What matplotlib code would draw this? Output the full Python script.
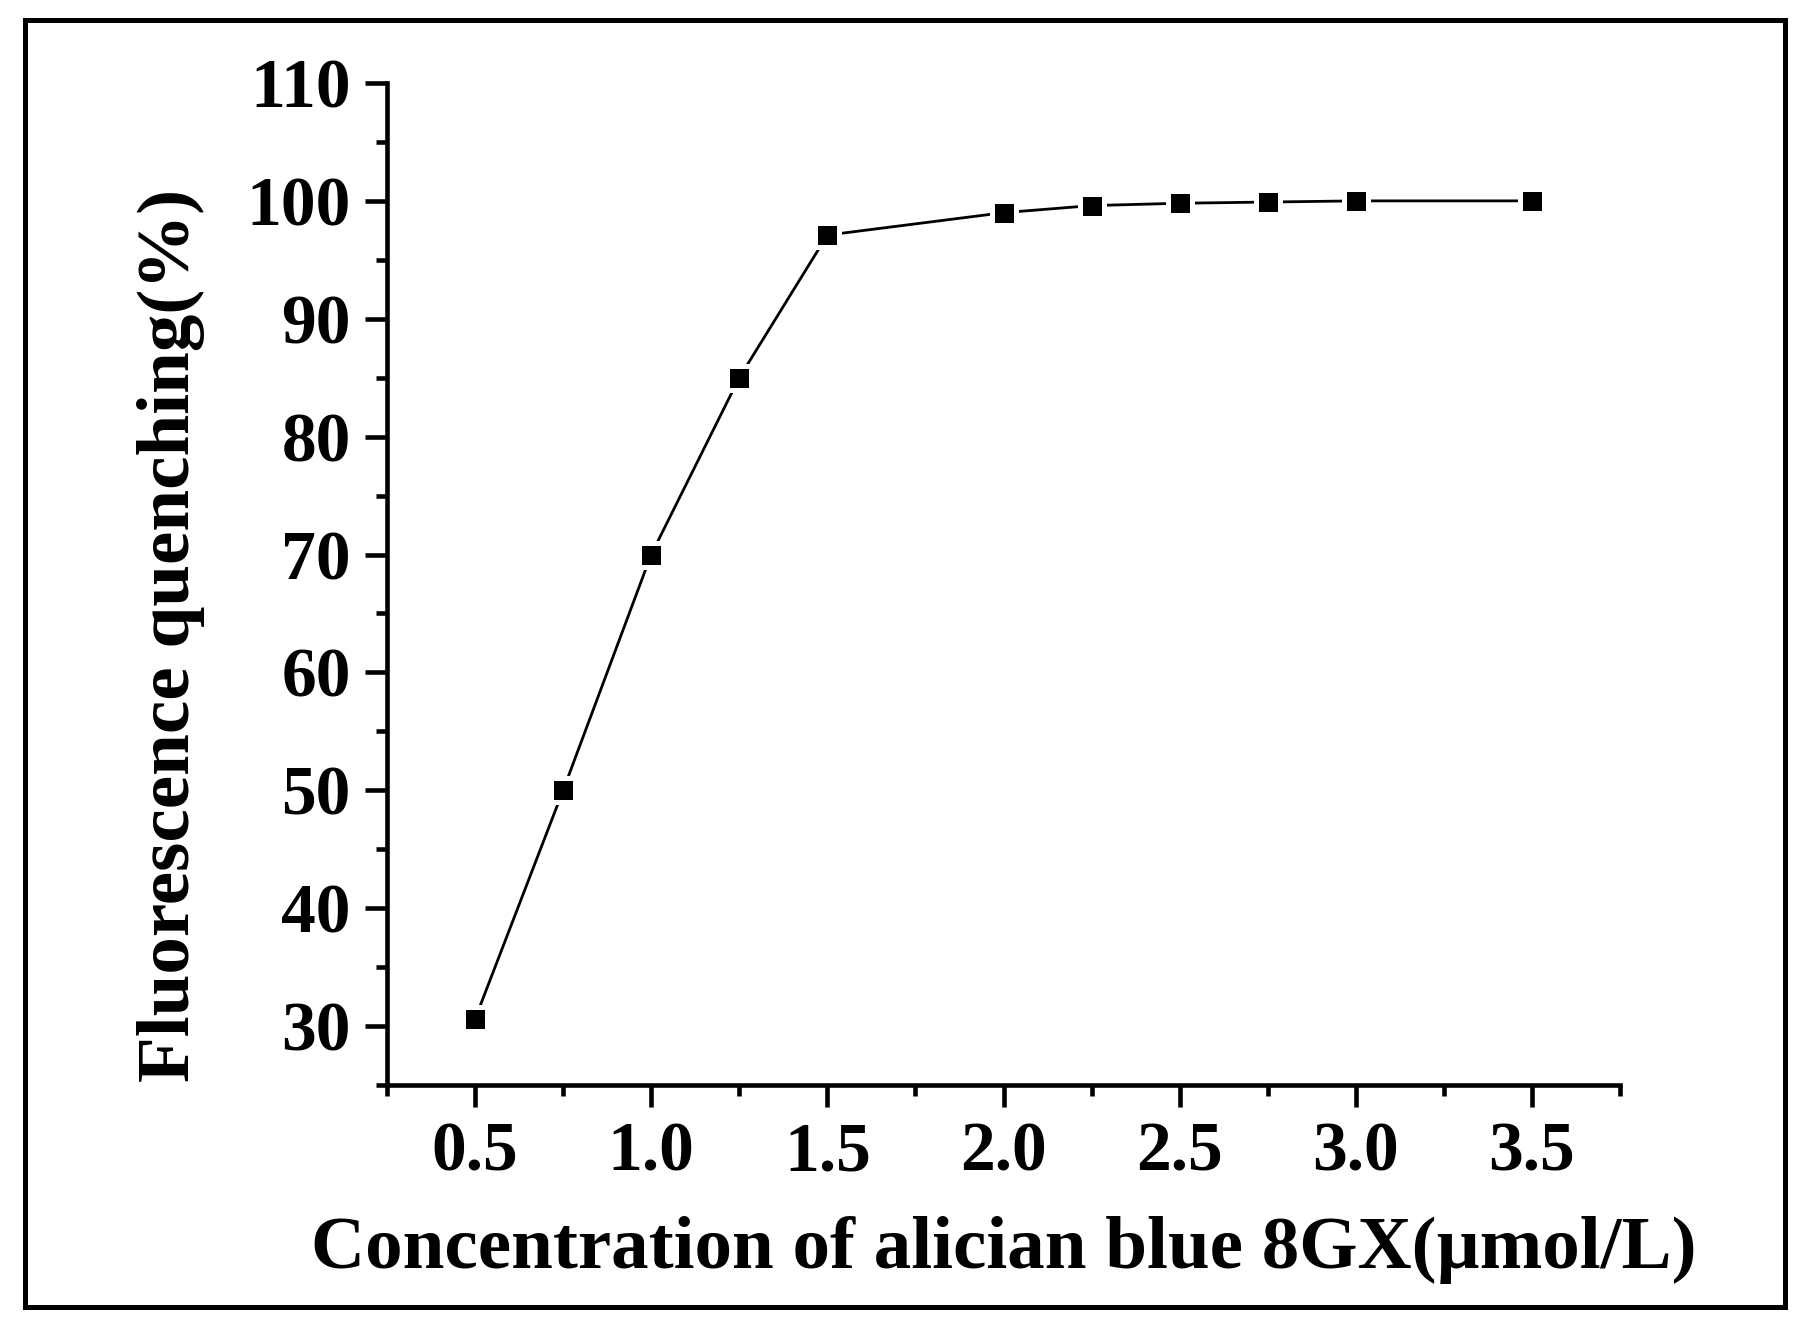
import matplotlib
matplotlib.use("Agg")
import matplotlib.pyplot as plt
from matplotlib.patches import Rectangle
from matplotlib.ticker import MultipleLocator

# data
concentration = [0.5, 0.75, 1.0, 1.25, 1.5, 2.0, 2.25, 2.5, 2.75, 3.0, 3.5]
quenching = [30.6, 50.0, 70.0, 85.0, 97.1, 99.0, 99.6, 99.8, 99.9, 100.0, 100.0]

x_ticks = [0.5, 1.0, 1.5, 2.0, 2.5, 3.0, 3.5]
y_ticks = [30, 40, 50, 60, 70, 80, 90, 100, 110]

plt.rcParams['font.family'] = ['Liberation Serif', 'DejaVu Serif']
plt.rcParams['font.weight'] = 'bold'

fig = plt.figure(figsize=(18.10, 13.31), dpi=100)
fig.patch.set_facecolor('white')

# outer frame around the whole figure
frame = Rectangle((25 / 1810, 1 - 1307 / 1331), 1760 / 1810, 1287 / 1331,
                  transform=fig.transFigure, fill=False, edgecolor='black',
                  linewidth=3.6)
fig.patches.append(frame)

ax = fig.add_axes([387 / 1810, 1 - 1085 / 1331, (1620 - 387) / 1810, (1085 - 83) / 1331])

# line first, then white-edged squares so the line stops short of each marker
ax.plot(concentration, quenching, color='black', linewidth=2.0, zorder=2)
ax.plot(concentration, quenching, linestyle='none', marker='s', markersize=17,
        markerfacecolor='black', markeredgecolor='white', markeredgewidth=3.6,
        zorder=3)

ax.set_xlim(0.25, 3.75)
ax.set_ylim(25, 110)
ax.set_xticks(x_ticks)
ax.set_yticks(y_ticks)
ax.set_xticklabels([f"{v:.1f}" for v in x_ticks])
ax.set_yticklabels([str(v) for v in y_ticks])
ax.xaxis.set_minor_locator(MultipleLocator(0.25))
ax.yaxis.set_minor_locator(MultipleLocator(5))

ax.spines['top'].set_visible(False)
ax.spines['right'].set_visible(False)
for s in ['left', 'bottom']:
    ax.spines[s].set_linewidth(3.3)

ax.tick_params(which='major', direction='out', length=16, width=3.3,
               labelsize=50, pad=10)
ax.tick_params(which='minor', direction='out', length=8, width=3.3)
for lab in ax.get_xticklabels() + ax.get_yticklabels():
    lab.set_fontweight('bold')

ax.set_xlabel('Concentration of alician blue 8GX(µmol/L)', fontsize=54,
              fontweight='bold', labelpad=22)
ax.set_ylabel('Fluorescence quenching(%)', fontsize=54, fontweight='bold')
ax.yaxis.set_label_coords(-0.148, 0.449)

fig.savefig('out.png', dpi=100, facecolor='white')
